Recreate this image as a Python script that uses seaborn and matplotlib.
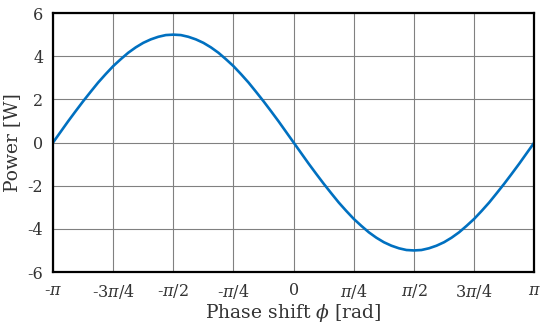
import numpy as np
import pandas as pd
import seaborn as sns
import matplotlib.pyplot as plt

# phase in units of pi/32, power (first half; second half mirrors with opposite sign)
phase_steps = list(range(-32, 33))
rise = [0.0, 0.49, 0.98, 1.45, 1.91, 2.35, 2.78, 3.17, 3.54, 3.86, 4.16, 4.41, 4.62, 4.78, 4.90, 4.98, 5.0]
half = rise + rise[-2::-1]          # -pi .. 0
power = half + [-v for v in half[1:]]  # 0 .. pi
tick_labels = ["-$\\pi$", "-3$\\pi$/4", "-$\\pi$/2", "-$\\pi$/4", "0",
               "$\\pi$/4", "$\\pi$/2", "3$\\pi$/4", "$\\pi$"]
y_ticks = [-6, -4, -2, 0, 2, 4, 6]

df = pd.DataFrame({"phi": np.array(phase_steps) * np.pi / 32, "P": power})

sns.set_style("white")
plt.rcParams['font.family'] = ['DejaVu Serif']
plt.rcParams['mathtext.fontset'] = 'dejavuserif'
plt.rcParams['axes.unicode_minus'] = False

fig = plt.figure(figsize=(5.5, 3.35), dpi=100)
ax = fig.add_axes([0.0964, 0.188, 0.875, 0.773])
sns.lineplot(data=df, x="phi", y="P", ax=ax, color="#0070C0", linewidth=1.9)

ax.set_xlim(-np.pi, np.pi)
ax.set_ylim(-6, 6)
ax.set_xticks(np.arange(-4, 5) * np.pi / 4)
ax.set_xticklabels(tick_labels)
ax.set_yticks(y_ticks)
ax.grid(True, color="#808080", linewidth=0.8)
ax.tick_params(length=0, labelsize=11.5, colors="#333333", pad=7)
for s in ax.spines.values():
    s.set_linewidth(1.6)
    s.set_color("black")
ax.set_xlabel("Phase shift $\\phi$ [rad]", fontsize=13.5, color="#333333", labelpad=1)
ax.set_ylabel("Power [W]", fontsize=13.5, color="#333333", labelpad=5)

fig.savefig("out.png", dpi=100)
